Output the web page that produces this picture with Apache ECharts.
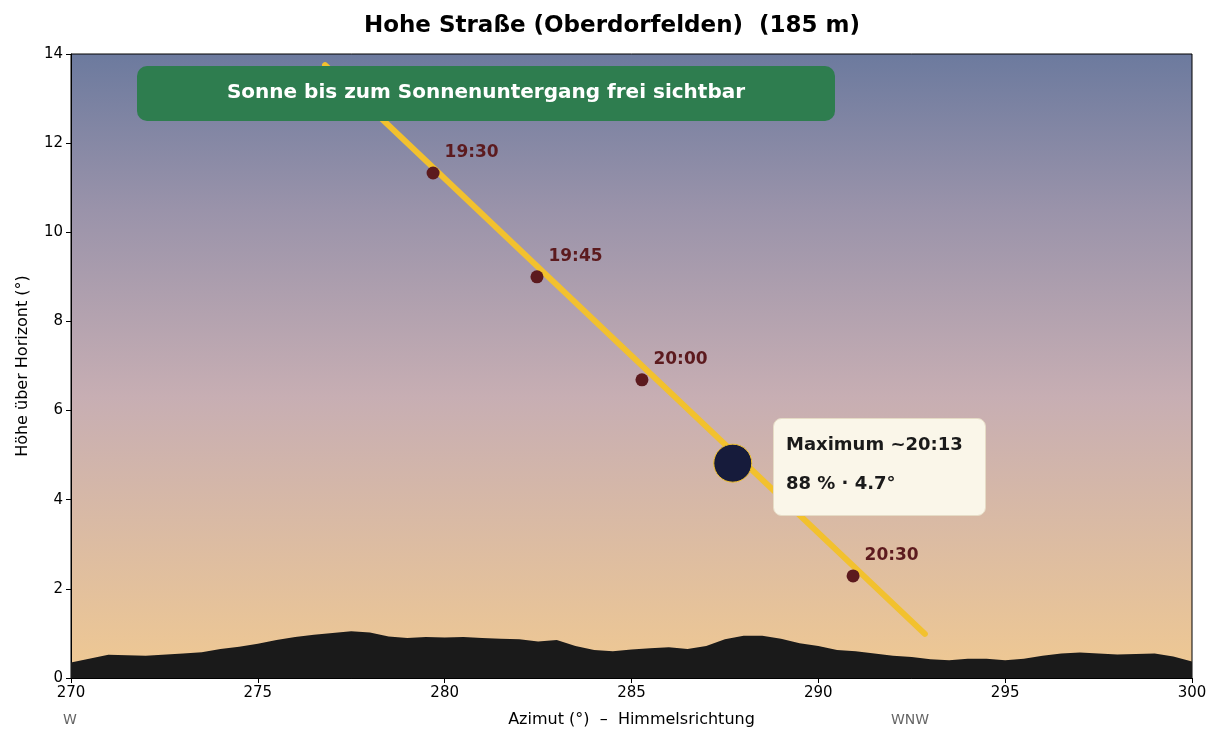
<!DOCTYPE html>
<html><head><meta charset="utf-8">
<script src="https://cdn.jsdelivr.net/npm/echarts@6/dist/echarts.min.js"></script>
<style>html,body{margin:0;padding:0;background:#fff}#c{width:1224px;height:744px}</style>
</head><body><div id="c"></div>
<script>
const title = 'Hohe Straße (Oberdorfelden)  (185 m)';
const sunPath = [[276.8,13.75],[292.85,0.99]];
const timeLabels = ['19:30','19:45','20:00','20:30'];
const timeAz = [279.69,282.47,285.28,290.93];
const timeAlt = [11.33,9.0,6.69,2.29];
const maxPoint = [287.71,4.82];
const horizonAz = [270,271,272,273,273.5,274,274.5,275,275.5,276,276.5,277,277.5,278,278.5,279,279.5,280,280.5,281,281.5,282,282.5,283,283.5,284,284.5,285,285.5,286,286.5,287,287.5,288,288.5,289,289.5,290,290.5,291,291.5,292,292.5,293,293.5,294,294.5,295,295.5,296,296.5,297,297.5,298,298.5,299,299.5,300];
const horizonAlt = [0.35,0.52,0.5,0.55,0.58,0.65,0.7,0.77,0.85,0.92,0.97,1.01,1.05,1.02,0.93,0.9,0.92,0.91,0.92,0.9,0.88,0.87,0.82,0.85,0.72,0.63,0.6,0.64,0.67,0.69,0.65,0.72,0.87,0.95,0.95,0.88,0.78,0.72,0.63,0.6,0.55,0.5,0.47,0.42,0.4,0.43,0.43,0.4,0.43,0.5,0.55,0.57,0.55,0.53,0.54,0.55,0.48,0.37];

const F = 'DejaVu Sans';
const chart = echarts.init(document.getElementById('c'));
chart.setOption({
  animation:false,
  title:{text:title,left:'center',top:10,textStyle:{fontFamily:F,fontSize:23,fontWeight:'bold',color:'#000'}},
  grid:{left:71,right:32,top:54,bottom:66,show:true,borderColor:'#000',borderWidth:1,
    backgroundColor:new echarts.graphic.LinearGradient(0,0,0,1,[
      {offset:0,color:'#6c7a9e'},{offset:0.25,color:'#9a93aa'},{offset:0.55,color:'#c7aeb3'},{offset:1,color:'#f0c992'}])},
  xAxis:{type:'value',min:270,max:300,interval:5,name:'Azimut (°)  –  Himmelsrichtung',nameLocation:'middle',nameGap:34,
    nameTextStyle:{fontFamily:F,fontSize:16,color:'#000'},
    axisLine:{show:true,lineStyle:{color:'#000'}},axisTick:{show:true,length:5,lineStyle:{color:'#000'}},
    axisLabel:{fontFamily:F,fontSize:15,color:'#000'},splitLine:{show:false}},
  yAxis:{type:'value',min:0,max:14,interval:2,name:'Höhe über Horizont (°)',nameLocation:'middle',nameGap:40,
    nameTextStyle:{fontFamily:F,fontSize:16,color:'#000'},
    axisLine:{show:true,lineStyle:{color:'#000'}},axisTick:{show:true,length:5,lineStyle:{color:'#000'}},
    axisLabel:{fontFamily:F,fontSize:15,color:'#000'},splitLine:{show:false}},
  series:[
    {type:'line',data:horizonAz.map((a,i)=>[a,horizonAlt[i]]),symbol:'none',lineStyle:{width:0},
     areaStyle:{color:'#1a1a1a',opacity:1},z:2},
    {type:'line',data:sunPath,symbol:'none',lineStyle:{color:'#f2c12e',width:6,cap:'round'},z:3},
    {type:'scatter',data:timeAz.map((a,i)=>({value:[a,timeAlt[i]],label:{formatter:timeLabels[i]}})),
     symbolSize:13,itemStyle:{color:'#5c1a1e',opacity:1},z:4,
     label:{show:true,position:'right',offset:[0,-20],fontFamily:F,fontSize:17,fontWeight:'bold',color:'#5c1a1e'}},
    {type:'scatter',data:[maxPoint],symbolSize:38,itemStyle:{color:'#161b3b',opacity:1,borderColor:'#f2c12e',borderWidth:1},z:5}
  ],
  graphic:[
    {type:'rect',left:137,top:66,shape:{width:698,height:55,r:10},style:{fill:'#2e7d4f'},z:10},
    {type:'text',x:486,y:93,style:{text:'Sonne bis zum Sonnenuntergang frei sichtbar',font:'bold 20px "DejaVu Sans"',fill:'#fff',textAlign:'center',textVerticalAlign:'middle'},z:11},
    {type:'rect',left:773,top:418,shape:{width:212,height:97,r:8},style:{fill:'#faf6e9',stroke:'#e6dcc6',lineWidth:1},z:10},
    {type:'text',left:786,top:436,style:{text:'Maximum ~20:13',font:'bold 18px "DejaVu Sans"',fill:'#1a1a1a'},z:11},
    {type:'text',left:786,top:475,style:{text:'88 % · 4.7°',font:'bold 18px "DejaVu Sans"',fill:'#1a1a1a'},z:11},
    {type:'text',left:63,top:713,style:{text:'W',font:'14px "DejaVu Sans"',fill:'#666'}},
    {type:'text',left:891,top:713,style:{text:'WNW',font:'14px "DejaVu Sans"',fill:'#666'}}
  ]
});
</script></body></html>
